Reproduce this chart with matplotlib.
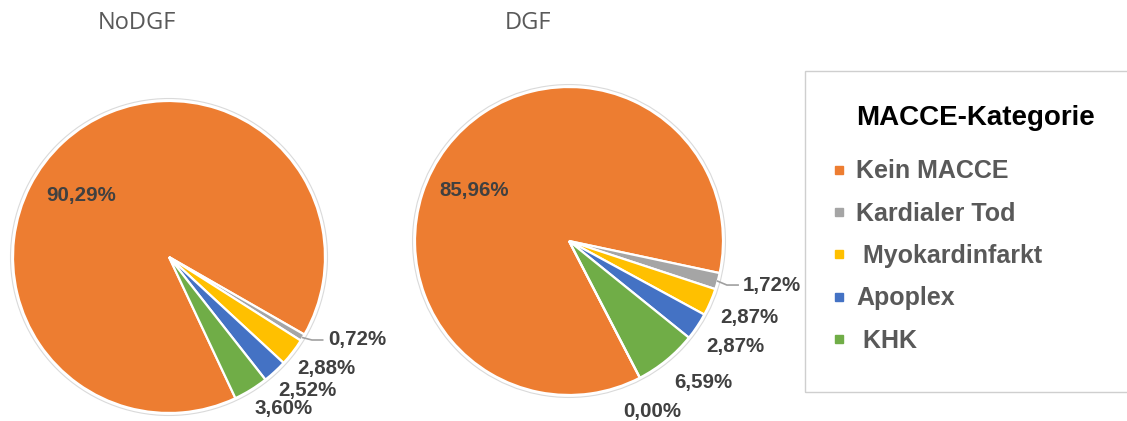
import numpy as np
import matplotlib.pyplot as plt
from matplotlib.lines import Line2D
from matplotlib.patches import Circle, Rectangle

# MACCE categories per group (percent)
categories = ["Kein MACCE", "Kardialer Tod", " Myokardinfarkt", "Apoplex", " KHK"]
colors = ["#ED7D31", "#A5A5A5", "#FFC000", "#4472C4", "#70AD47"]
nodgf = [90.29, 0.72, 2.88, 2.52, 3.60]
dgf = [85.96, 1.72, 2.87, 2.87, 6.59, 0.00]   # last slice is the empty 0,00% one
titles = ["NoDGF", "DGF"]

# label spots (pie radius units), order follows the slices
nodgf_lab = [(-0.564, 0.397), (1.205, -0.532), (1.006, -0.712), (0.885, -0.853), (0.737, -0.968)]
dgf_lab = [(-0.617, 0.331), (1.318, -0.286), (1.169, -0.494), (1.078, -0.688), (0.870, -0.922), (0.539, -1.110)]

W, H = 1127, 421
fig = plt.figure(figsize=(W / 100, H / 100), dpi=100)

def pct(v):
    return f"{v:.2f}%".replace(".", ",")

def draw_pie(rect, vals, labpos, start):
    ax = fig.add_axes(rect)
    cols = (colors + ["#FFFFFF"])[:len(vals)]
    wedges, texts = ax.pie(vals, colors=cols, startangle=start, counterclock=False,
                           labels=[pct(v) for v in vals], radius=1,
                           wedgeprops=dict(edgecolor="white", linewidth=1.6))
    for t, p in zip(texts, labpos):
        t.set_position(p)
        t.set_ha("center")
        t.set_va("center")
        t.set_fontsize(14.8)
        t.set_fontweight("bold")
        t.set_family("Liberation Sans")
        t.set_color("#404040")
    ax.add_patch(Circle((0, 0), 1.016, fill=False, edgecolor="#dadada", lw=0.8, clip_on=False))
    # leader line for the thin grey slice
    w = wedges[1]
    th = np.deg2rad((w.theta1 + w.theta2) / 2)
    x0, y0 = np.cos(th), np.sin(th)
    lx, ly = labpos[1]
    ax.plot([x0, x0 + 0.06, lx - 0.22], [y0, ly, ly], color="#a0a0a0", lw=1.2, clip_on=False)
    ax.set_xlim(-1, 1)
    ax.set_ylim(-1, 1)
    ax.set_aspect("equal")
    return ax

draw_pie([13 / W, 8 / H, 312 / W, 312 / H], nodgf, nodgf_lab, -64.8)
draw_pie([415 / W, 26 / H, 308 / W, 308 / H], dgf, dgf_lab, -62.6)

fig.text(137 / W, 1 - 23 / H, titles[0], ha="center", va="center", fontsize=17,
         family="Open Sans", color="#595959")
fig.text(528 / W, 1 - 23 / H, titles[1], ha="center", va="center", fontsize=17,
         family="Open Sans", color="#595959")

# legend box
fig.patches.append(Rectangle((805 / W, 1 - 392 / H), 330 / W, 321 / H, transform=fig.transFigure,
                             fill=False, edgecolor="#cfcfcf", lw=1.0))
fig.text(976 / W, 1 - 118 / H, "MACCE-Kategorie", ha="center", va="center", fontsize=20,
         fontweight="bold", family="Liberation Sans", color="black")
handles = [Line2D([], [], marker="s", linestyle="", color=c, markersize=6) for c in colors]
fig.legend(handles, categories, loc="upper left", bbox_to_anchor=(816 / W, 1 - 147 / H),
           frameon=False, handlelength=0.8, handletextpad=0.3, labelspacing=0.73,
           borderpad=0, prop=dict(family="Liberation Sans", weight="bold", size=18),
           labelcolor="#595959")

fig.savefig("out.png", dpi=100)
